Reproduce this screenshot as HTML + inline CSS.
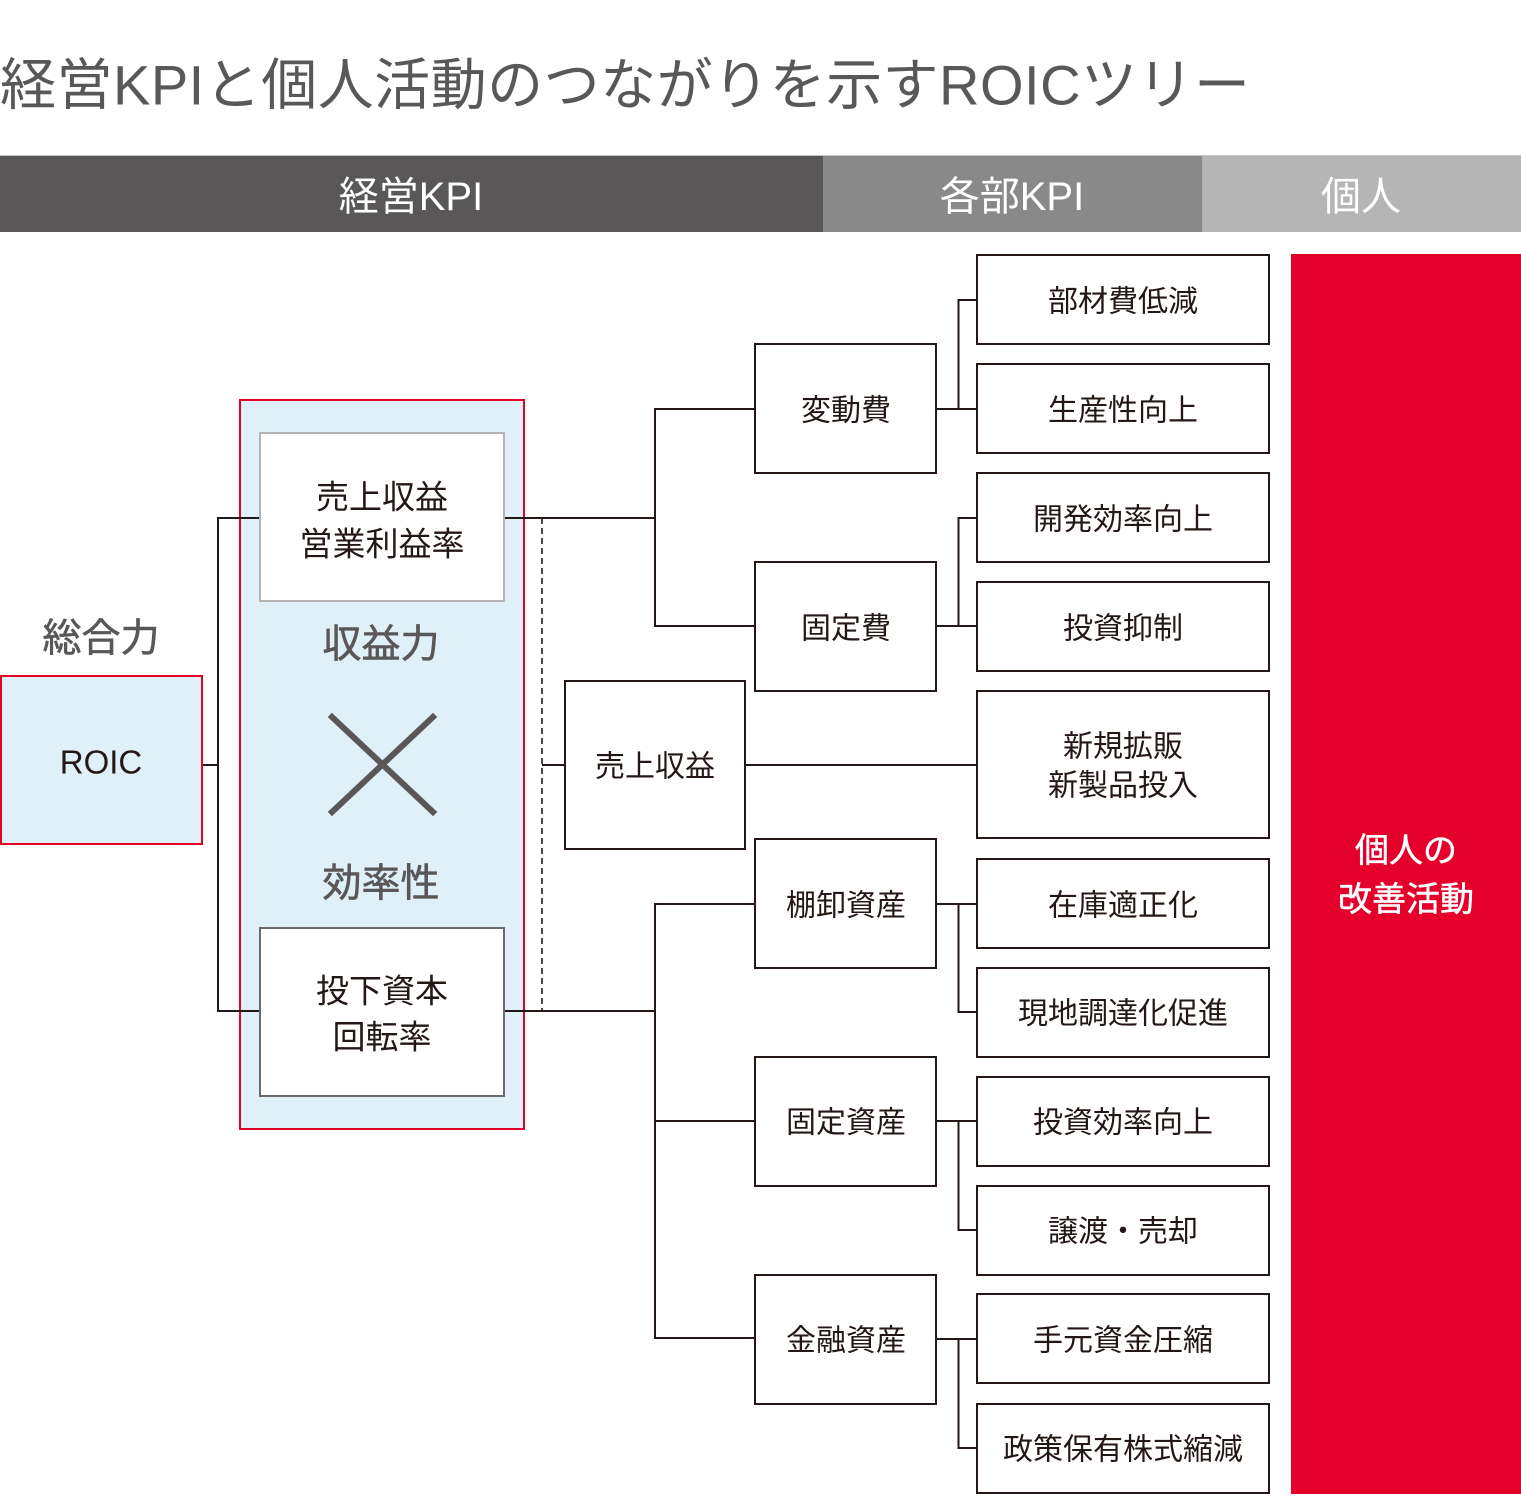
<!DOCTYPE html>
<html>
<head>
<meta charset="utf-8">
<style>
  html, body { margin:0; padding:0; background:#fff; }
  svg { display:block; }
  text { font-family: "Liberation Sans", "Noto Sans CJK JP", sans-serif; }
</style>
</head>
<body>
<svg width="1521" height="1501" viewBox="0 0 1521 1501" xmlns="http://www.w3.org/2000/svg">
  <rect x="0" y="0" width="1521" height="1501" fill="#ffffff"/>

  <!-- Title -->
  <text x="0" y="85" dominant-baseline="central" font-size="56" fill="#595757" textLength="1250" lengthAdjust="spacing">経営KPIと個人活動のつながりを示すROICツリー</text>

  <!-- Header band -->
  <rect x="0" y="156" width="823" height="76" fill="#595757"/>
  <rect x="823" y="156" width="379" height="76" fill="#898989"/>
  <rect x="1202" y="156" width="319" height="76" fill="#b5b5b5"/>
  <rect x="0" y="155" width="1521" height="1" fill="#c8c8c8"/>
  <text x="411" y="197" text-anchor="middle" dominant-baseline="central" font-size="40" fill="#ffffff">経営KPI</text>
  <text x="1012" y="197" text-anchor="middle" dominant-baseline="central" font-size="40" fill="#ffffff">各部KPI</text>
  <text x="1361" y="197" text-anchor="middle" dominant-baseline="central" font-size="40" fill="#ffffff">個人</text>

  <!-- Red column -->
  <rect x="1291" y="254" width="230" height="1240" fill="#e4002b"/>
  <text x="1406" y="851" text-anchor="middle" dominant-baseline="central" font-size="34" fill="#ffffff" stroke="#ffffff" stroke-width="0.5">個人の</text>
  <text x="1406" y="900" text-anchor="middle" dominant-baseline="central" font-size="34" fill="#ffffff" stroke="#ffffff" stroke-width="0.5">改善活動</text>

  <!-- Blue group box -->
  <rect x="240" y="400" width="284" height="729" fill="#dff0f9" stroke="#e4002b" stroke-width="2"/>

  <!-- Connectors -->
  <g stroke="#231815" stroke-width="2" fill="none">
    <path d="M202 765 H218 M218 517 V1012 M217 518 H260 M217 1011 H260"/>
    <path d="M504 518 H656 M655 408 V627 M654 409 H755 M654 626 H755"/>
    <path d="M504 1011 H656 M655 903 V1339 M654 904 H755 M654 1121 H755 M654 1338 H755"/>
    <path d="M542 765 H565"/>
    <path d="M745 765 H977"/>
    <path d="M936 409 H977 M958.5 299 V410 M958 300 H977"/>
    <path d="M936 626 H977 M958.5 517 V627 M958 518 H977"/>
    <path d="M936 904 H977 M958.5 903 V1013 M958 1012 H977"/>
    <path d="M936 1121 H977 M958.5 1120 V1231 M958 1230 H977"/>
    <path d="M936 1339 H977 M958.5 1338 V1449 M958 1448 H977"/>
  </g>
  <path d="M542 518 V1011" stroke="#231815" stroke-width="1.6" stroke-dasharray="6 4" fill="none"/>

  <!-- ROIC box -->
  <rect x="1" y="676" width="201" height="168" fill="#dff0f9" stroke="#e4002b" stroke-width="2"/>
  <text x="101" y="762" text-anchor="middle" dominant-baseline="central" font-size="33" fill="#231815">ROIC</text>
  <text x="101" y="639" text-anchor="middle" dominant-baseline="central" font-size="39" fill="#595757" stroke="#595757" stroke-width="0.6">総合力</text>

  <!-- Inner boxes -->
  <rect x="260" y="433" width="244" height="168" fill="#ffffff" stroke="#b4b4b4" stroke-width="2"/>
  <text x="382" y="497" text-anchor="middle" dominant-baseline="central" font-size="33" fill="#231815">売上収益</text>
  <text x="382" y="544" text-anchor="middle" dominant-baseline="central" font-size="33" fill="#231815">営業利益率</text>

  <rect x="260" y="928" width="244" height="168" fill="#ffffff" stroke="#6b6b6b" stroke-width="2"/>
  <text x="382" y="991" text-anchor="middle" dominant-baseline="central" font-size="33" fill="#231815">投下資本</text>
  <text x="382" y="1037" text-anchor="middle" dominant-baseline="central" font-size="33" fill="#231815">回転率</text>

  <text x="381" y="645" text-anchor="middle" dominant-baseline="central" font-size="39" fill="#595757" stroke="#595757" stroke-width="0.6">収益力</text>
  <text x="381" y="884" text-anchor="middle" dominant-baseline="central" font-size="39" fill="#595757" stroke="#595757" stroke-width="0.6">効率性</text>

  <!-- X mark -->
  <g stroke="#595757" stroke-width="6" stroke-linecap="square">
    <line x1="332" y1="717" x2="433" y2="812"/>
    <line x1="433" y1="717" x2="332" y2="812"/>
  </g>

  <!-- Column 2 boxes -->
  <g fill="#ffffff" stroke="#231815" stroke-width="2">
    <rect x="755" y="344" width="181" height="129"/>
    <rect x="755" y="562" width="181" height="129"/>
    <rect x="565" y="681" width="180" height="168"/>
    <rect x="755" y="839" width="181" height="129"/>
    <rect x="755" y="1057" width="181" height="129"/>
    <rect x="755" y="1275" width="181" height="129"/>
  </g>
  <g font-size="30" fill="#231815" text-anchor="middle">
    <text x="846" y="411" dominant-baseline="central">変動費</text>
    <text x="846" y="629" dominant-baseline="central">固定費</text>
    <text x="655" y="767" dominant-baseline="central">売上収益</text>
    <text x="846" y="906" dominant-baseline="central">棚卸資産</text>
    <text x="846" y="1123" dominant-baseline="central">固定資産</text>
    <text x="846" y="1341" dominant-baseline="central">金融資産</text>
  </g>

  <!-- Column 3 boxes -->
  <g fill="#ffffff" stroke="#231815" stroke-width="2">
    <rect x="977" y="255" width="292" height="89"/>
    <rect x="977" y="364" width="292" height="89"/>
    <rect x="977" y="473" width="292" height="89"/>
    <rect x="977" y="582" width="292" height="89"/>
    <rect x="977" y="691" width="292" height="147"/>
    <rect x="977" y="859" width="292" height="89"/>
    <rect x="977" y="968" width="292" height="89"/>
    <rect x="977" y="1077" width="292" height="89"/>
    <rect x="977" y="1186" width="292" height="89"/>
    <rect x="977" y="1294" width="292" height="89"/>
    <rect x="977" y="1404" width="292" height="89"/>
  </g>
  <g font-size="30" fill="#231815" text-anchor="middle">
    <text x="1123" y="302" dominant-baseline="central">部材費低減</text>
    <text x="1123" y="411" dominant-baseline="central">生産性向上</text>
    <text x="1123" y="520" dominant-baseline="central">開発効率向上</text>
    <text x="1123" y="629" dominant-baseline="central">投資抑制</text>
    <text x="1123" y="747" dominant-baseline="central">新規拡販</text>
    <text x="1123" y="786" dominant-baseline="central">新製品投入</text>
    <text x="1123" y="906" dominant-baseline="central">在庫適正化</text>
    <text x="1123" y="1014" dominant-baseline="central">現地調達化促進</text>
    <text x="1123" y="1123" dominant-baseline="central">投資効率向上</text>
    <text x="1123" y="1232" dominant-baseline="central">譲渡・売却</text>
    <text x="1123" y="1341" dominant-baseline="central">手元資金圧縮</text>
    <text x="1123" y="1450" dominant-baseline="central">政策保有株式縮減</text>
  </g>
</svg>
</body>
</html>
